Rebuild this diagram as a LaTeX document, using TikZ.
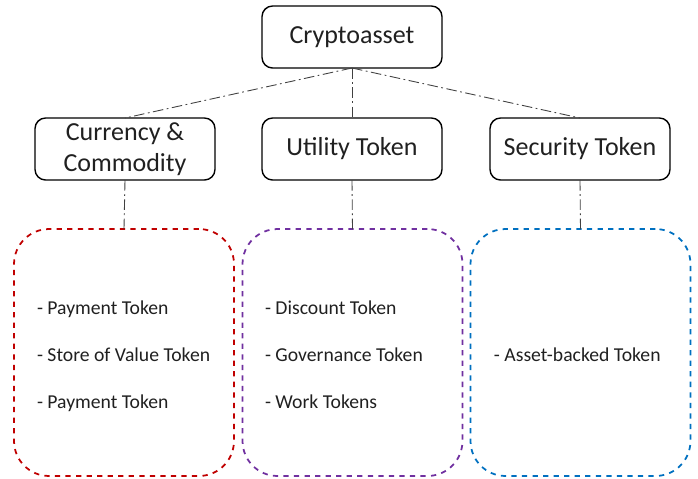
\documentclass[tikz,border=0pt]{standalone}
\usepackage{fontspec}
\setmainfont{Carlito}
\definecolor{curred}{RGB}{192,0,0}
\definecolor{utilpurple}{RGB}{112,48,160}
\definecolor{secblue}{RGB}{0,112,192}
\definecolor{linkgray}{RGB}{64,64,64}
\definecolor{txtgray}{RGB}{32,32,32}
\begin{document}
\begin{tikzpicture}[x=0.02cm,y=-0.02cm,inner sep=0pt,outer sep=0pt,
catbox/.style={draw,rectangle,rounded corners=6pt,line width=0.8pt,minimum width=3.6cm,minimum height=1.24cm,align=center,text=txtgray,font=\fontsize{14.8}{17.6}\selectfont},
groupbox/.style={draw,dashed,rectangle,rounded corners=0.7cm,line width=1pt,minimum width=4.4cm,minimum height=4.94cm},
item/.style={anchor=west,text=txtgray,text height=1.6ex,text depth=0.5ex,font=\fontsize{11.2}{13}\selectfont},
link/.style={draw=linkgray,line width=0.5pt,dash pattern=on 6pt off 2pt on 1pt off 2pt}]

\useasboundingbox (0,0) rectangle (698,478);

\draw (352,37) node[catbox] (crypto) {Cryptoasset};
\draw (125,149) node[catbox] (cur) {Currency \&\\Commodity};
\draw (352,149) node[catbox] (util) {Utility Token};
\draw (580,149) node[catbox] (sec) {Security Token};

\draw (124,352.5) node[groupbox,draw=curred] (curgrp) {};
\draw (352.5,352.5) node[groupbox,draw=utilpurple] (utilgrp) {};
\draw (580.5,352.5) node[groupbox,draw=secblue] (secgrp) {};

% items
\draw (37,310) node[item] (c1) {- Payment Token};
\draw (37,357) node[item] (c2) {- Store of Value Token};
\draw (37,404) node[item] (c3) {- Payment Token};
\draw (265,310) node[item] (u1) {- Discount Token};
\draw (265,357) node[item] (u2) {- Governance Token};
\draw (265,404) node[item] (u3) {- Work Tokens};
\draw (494,357) node[item] (s1) {- Asset-backed Token};

% links
\draw[link] (crypto.south) -- (cur.north);
\draw[link] (crypto.south) -- (util.north);
\draw[link] (crypto.south) -- (sec.north);
\draw[link] (cur.south) -- (curgrp.north);
\draw[link] (util.south) -- (utilgrp.north);
\draw[link] (sec.south) -- (secgrp.north);
\end{tikzpicture}
\end{document}
